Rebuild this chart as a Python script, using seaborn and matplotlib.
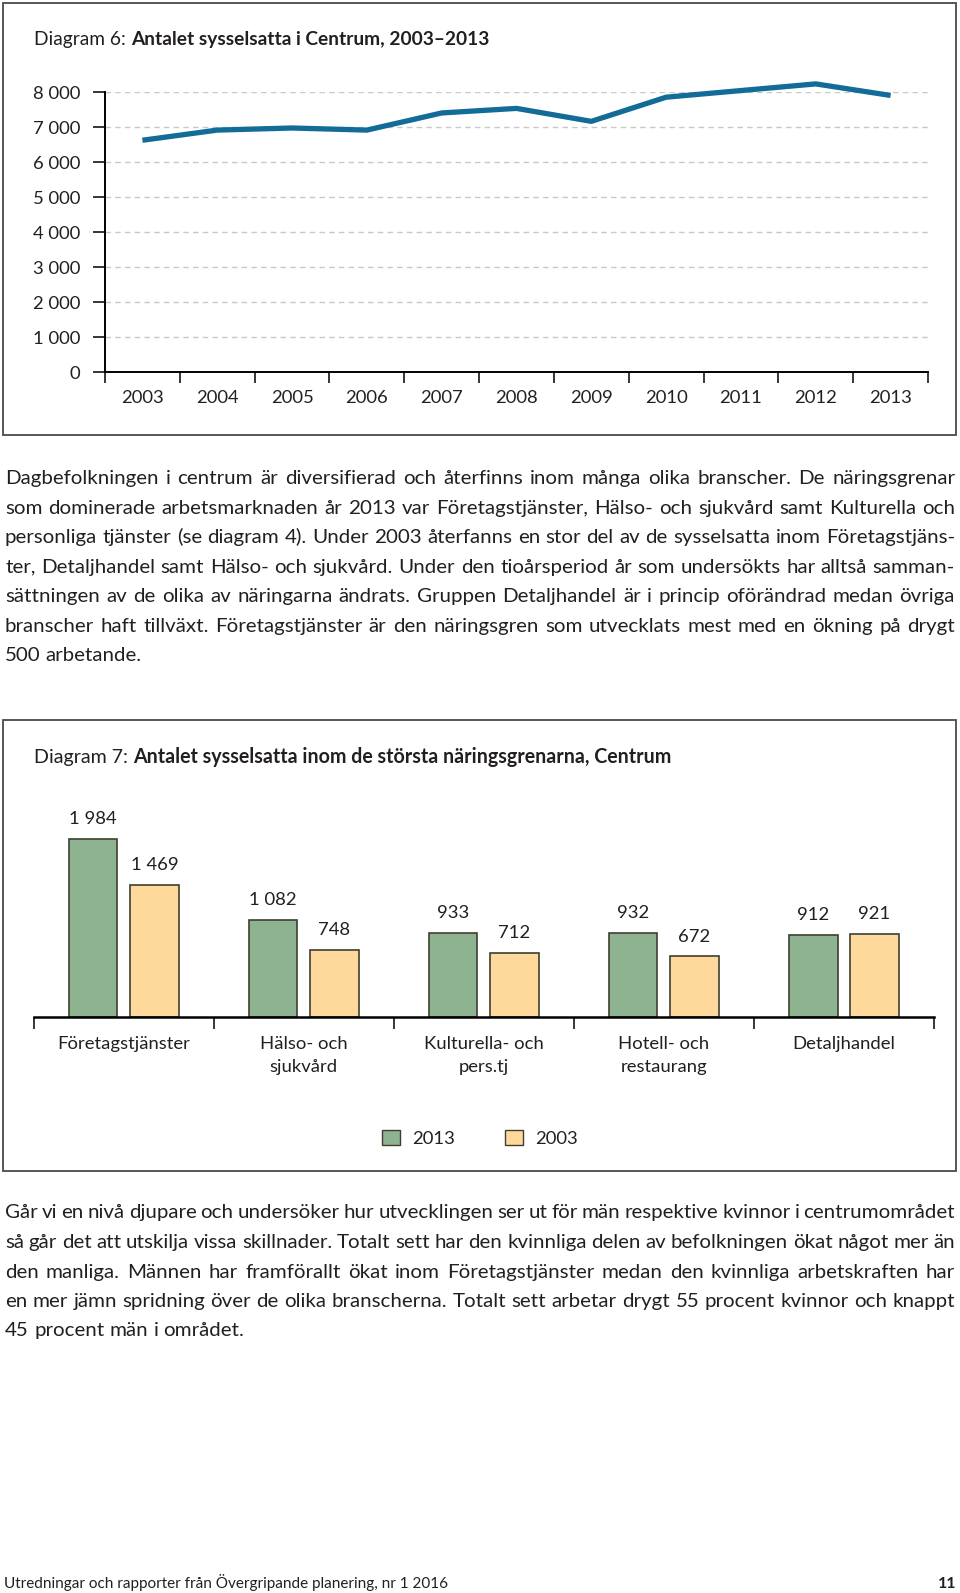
import math
import numpy as np
import pandas as pd
import matplotlib
matplotlib.use("Agg")
import matplotlib.pyplot as plt
import seaborn as sns
from matplotlib.transforms import IdentityTransform
from matplotlib.patches import Rectangle, Patch
from matplotlib.font_manager import FontProperties

# ---------------- data ----------------
years = ["2003", "2004", "2005", "2006", "2007", "2008", "2009", "2010", "2011", "2012", "2013"]
employed = [6630, 6920, 6980, 6920, 7410, 7540, 7170, 7860, 8050, 8240, 7910]
y_ticks = [0, 1000, 2000, 3000, 4000, 5000, 6000, 7000, 8000]
y_tick_labels = ["0", "1 000", "2 000", "3 000", "4 000", "5 000", "6 000", "7 000", "8 000"]

sectors = ["Företagstjänster", "Hälso- och\nsjukvård", "Kulturella- och\npers.tj",
           "Hotell- och\nrestaurang", "Detaljhandel"]
values_2013 = [1984, 1082, 933, 932, 912]
values_2003 = [1469, 748, 712, 672, 921]
series_labels = ["2013", "2003"]

title6_a = "Diagram 6: "
title6_b = "Antalet sysselsatta i Centrum, 2003–2013"
title7_a = "Diagram 7: "
title7_b = "Antalet sysselsatta inom de största näringsgrenarna, Centrum"

para1 = [
    "Dagbefolkningen i centrum är diversifierad och återfinns inom många olika branscher. De näringsgrenar",
    "som dominerade arbetsmarknaden år 2013 var Företagstjänster, Hälso- och sjukvård samt Kulturella och",
    "personliga tjänster (se diagram 4). Under 2003 återfanns en stor del av de sysselsatta inom Företagstjäns-",
    "ter, Detaljhandel samt Hälso- och sjukvård. Under den tioårsperiod år som undersökts har alltså samman-",
    "sättningen av de olika av näringarna ändrats. Gruppen Detaljhandel är i princip oförändrad medan övriga",
    "branscher haft tillväxt. Företagstjänster är den näringsgren som utvecklats mest med en ökning på drygt",
    "500 arbetande.",
]
para2 = [
    "Går vi en nivå djupare och undersöker hur utvecklingen ser ut för män respektive kvinnor i centrumområdet",
    "så går det att utskilja vissa skillnader. Totalt sett har den kvinnliga delen av befolkningen ökat något mer än",
    "den manliga. Männen har framförallt ökat inom Företagstjänster medan den kvinnliga arbetskraften har",
    "en mer jämn spridning över de olika branscherna. Totalt sett arbetar drygt 55 procent kvinnor och knappt",
    "45 procent män i området.",
]
footer_text = "Utredningar och rapporter från Övergripande planering, nr 1 2016"
page_no = "11"

# ---------------- style ----------------
W, H, DPI = 960, 1593, 100
LINE = "#136B97"
GREEN = "#8DB390"
YELLOW = "#FFD99B"
EDGE = "#3F3E30"
TXT = "#231F20"
FAM = ["Lato", "DejaVu Sans"]
FS = 13.3

sns.set_theme(style="white")
plt.rcParams["font.family"] = FAM
plt.rcParams["text.color"] = TXT
plt.rcParams["xtick.color"] = "black"
plt.rcParams["ytick.color"] = "black"
plt.rcParams["xtick.labelcolor"] = TXT
plt.rcParams["ytick.labelcolor"] = TXT

fig = plt.figure(figsize=(W / DPI, H / DPI), dpi=DPI)
fig.patch.set_facecolor("white")
R = fig.canvas.get_renderer()
ID = IdentityTransform()

try:
    from matplotlib.backends.backend_agg import get_hinting_flag
except Exception:
    get_hinting_flag = None


def baseline_fix(s, size, weight):
    """Return (k - d) so that Agg puts the glyph baseline on an exact pixel row."""
    try:
        fp = FontProperties(family=FAM, size=size, weight=weight)
        font = R._prepare_font(fp)
        font.set_text(s, 0, flags=get_hinting_flag())
        _, h26 = font.get_width_height()
        d26 = font.get_descent()
        d = d26 / 64.0
        a = (h26 - d26) / 64.0
        k = int(h26 // 64) - math.floor(a)
        return k - d
    except Exception:
        return None


def put(x, ytop, s, **kw):
    kw.setdefault("color", TXT)
    return fig.text(x, H - ytop, s, transform=ID, **kw)


def put_word(x, ybase_top, s, size, weight="normal", ha="left"):
    """Text placed with its baseline at ybase_top pixels from the top."""
    T = round(ybase_top)
    fix = baseline_fix(s, size, weight)
    yflip = T + fix if fix is not None else T
    return fig.text(x, H - yflip, s, transform=ID, fontsize=size, weight=weight,
                    va="baseline", ha=ha, color=TXT)


def wid(t):
    return t.get_window_extent(R).width


def natural_width(s, size, weight="normal"):
    t = put(0, 0, s, fontsize=size, weight=weight)
    w = wid(t)
    t.remove()
    return w


# ---------------- boxes ----------------
for (bx0, by0, bx1, by1) in [(3, 3, 956, 435), (3, 720, 956, 1171)]:
    fig.add_artist(Rectangle((bx0, H - by1), bx1 - bx0, by1 - by0, transform=ID,
                             fill=False, ec="#4A4A4A", lw=1.3))

# ---------------- titles ----------------
def title(ya, a, b, tx0, tx1):
    ref = 10
    w = natural_width(a, ref) + natural_width(b, ref, "bold")
    size = ref * (tx1 - tx0) / w
    t1 = put_word(tx0, ya, a, size)
    put_word(tx0 + wid(t1), ya, b, size, weight="bold")

title(45, title6_a, title6_b, 34, 488)
title(763, title7_a, title7_b, 34, 670)

# ---------------- line chart ----------------
ax1 = fig.add_axes([105 / W, 1 - 372.3 / H, 823 / W, 280 / H])
pos = np.arange(len(years))
df1 = pd.DataFrame({"pos": pos, "employed": employed})
sns.lineplot(data=df1, x="pos", y="employed", ax=ax1, color=LINE, lw=3.8,
             sort=False, errorbar=None)
for ln in ax1.lines:
    ln.set_clip_on(False)
    ln.set_solid_joinstyle("round")
    ln.set_solid_capstyle("butt")
ax1.set_xlim(-0.5, len(years) - 0.5)
ax1.set_ylim(0, 8000)
ax1.set_xticks(np.arange(-0.5, len(years), 1.0))
ax1.set_xticklabels([])
ax1.set_xticks(pos, minor=True)
ax1.set_xticklabels(years, minor=True)
ax1.set_yticks(y_ticks)
ax1.set_yticklabels(y_tick_labels)
ax1.tick_params(axis="x", which="major", length=8, width=1.1, direction="out", bottom=True)
ax1.tick_params(axis="x", which="minor", length=0, pad=13, labelsize=FS, bottom=True)
ax1.tick_params(axis="y", which="major", length=8.6, width=1.1, direction="out", pad=9,
                labelsize=FS, left=True)
ax1.set_xlabel("")
ax1.set_ylabel("")
ax1.yaxis.grid(True, ls=(0, (4, 3)), color="#C8C8C8", lw=1)
ax1.xaxis.grid(False)
ax1.set_axisbelow(True)
for s in ["top", "right"]:
    ax1.spines[s].set_visible(False)
for s in ["left", "bottom"]:
    ax1.spines[s].set_color("black")
    ax1.spines[s].set_linewidth(1.4)
ax1.set_facecolor("none")

# ---------------- bar chart ----------------
ax2 = fig.add_axes([33.7 / W, 1 - 1016.7 / H, 900.3 / W, 200 / H])
df2 = pd.DataFrame({
    "sector": sectors * 2,
    "value": values_2013 + values_2003,
    "series": [series_labels[0]] * len(sectors) + [series_labels[1]] * len(sectors),
})
sns.barplot(data=df2, x="sector", y="value", hue="series", order=sectors,
            hue_order=series_labels, palette=[GREEN, YELLOW], width=0.68, gap=0.21,
            edgecolor=EDGE, linewidth=1.2, ax=ax2, legend=False, saturation=1)
ax2.set_xlim(-0.5, len(sectors) - 0.5)
ax2.set_ylim(0, 200 / 0.0897)
for cont in ax2.containers:
    ax2.bar_label(cont, labels=[f"{int(v):,}".replace(",", " ") for v in cont.datavalues],
                  padding=8.5, fontsize=FS, color=TXT)
ax2.set_xticks(np.arange(-0.5, len(sectors), 1.0))
ax2.set_xticklabels([])
ax2.set_xticks(np.arange(len(sectors)), minor=True)
ax2.set_xticklabels(sectors, minor=True, linespacing=1.55)
ax2.tick_params(axis="x", which="major", length=8.6, width=1.1, direction="out", bottom=True)
ax2.tick_params(axis="x", which="minor", length=0, pad=14, labelsize=FS, bottom=True)
ax2.set_yticks([])
ax2.set_xlabel("")
ax2.set_ylabel("")
for s in ["top", "right", "left"]:
    ax2.spines[s].set_visible(False)
ax2.spines["bottom"].set_color("black")
ax2.spines["bottom"].set_linewidth(1.8)
ax2.set_facecolor("none")

handles = [Patch(facecolor=GREEN, edgecolor=EDGE, lw=1.0, label=series_labels[0]),
           Patch(facecolor=YELLOW, edgecolor=EDGE, lw=1.0, label=series_labels[1])]
fig.legend(handles=handles, loc="center", bbox_to_anchor=(480 / W, 1 - 1138.5 / H),
           ncol=2, frameon=False, fontsize=FS, handlelength=1.0, handleheight=0.9,
           handletextpad=0.65, columnspacing=2.7, borderpad=0, borderaxespad=0)

# ---------------- paragraphs ----------------
ref = 10
sp_ref = natural_width("a a", ref) - natural_width("aa", ref)
x0, x1 = 5, 955
ratios = []
for line in para1[:-1]:
    ws = [natural_width(w, ref) for w in line.split()]
    ratios.append((x1 - x0) / (sum(ws) + sp_ref * (len(ws) - 1)))
body_size = ref * min(ratios) * 0.995
space_w = natural_width("a a", body_size) - natural_width("aa", body_size)


def paragraph(lines, y_first, step, size):
    for i, line in enumerate(lines):
        words = line.split()
        yb = y_first + step * i
        ts = [put_word(0, yb, w, size) for w in words]
        ws = [wid(t) for t in ts]
        if i == len(lines) - 1 or len(words) < 2:
            gap = space_w
        else:
            gap = (x1 - x0 - sum(ws)) / (len(words) - 1)
        x = x0
        for t, w in zip(ts, ws):
            t.set_x(x)
            x += w + gap

paragraph(para1, 484.5, 29.45, body_size)
paragraph(para2, 1218.5, 29.5, body_size)

# ---------------- footer ----------------
fsize = 10 * (447 - 4) / natural_width(footer_text, 10)
put_word(4, 1588, footer_text, fsize)
put_word(956, 1588, page_no, fsize * 1.05, weight="bold", ha="right")

fig.savefig("out.png", dpi=DPI, facecolor="white")
